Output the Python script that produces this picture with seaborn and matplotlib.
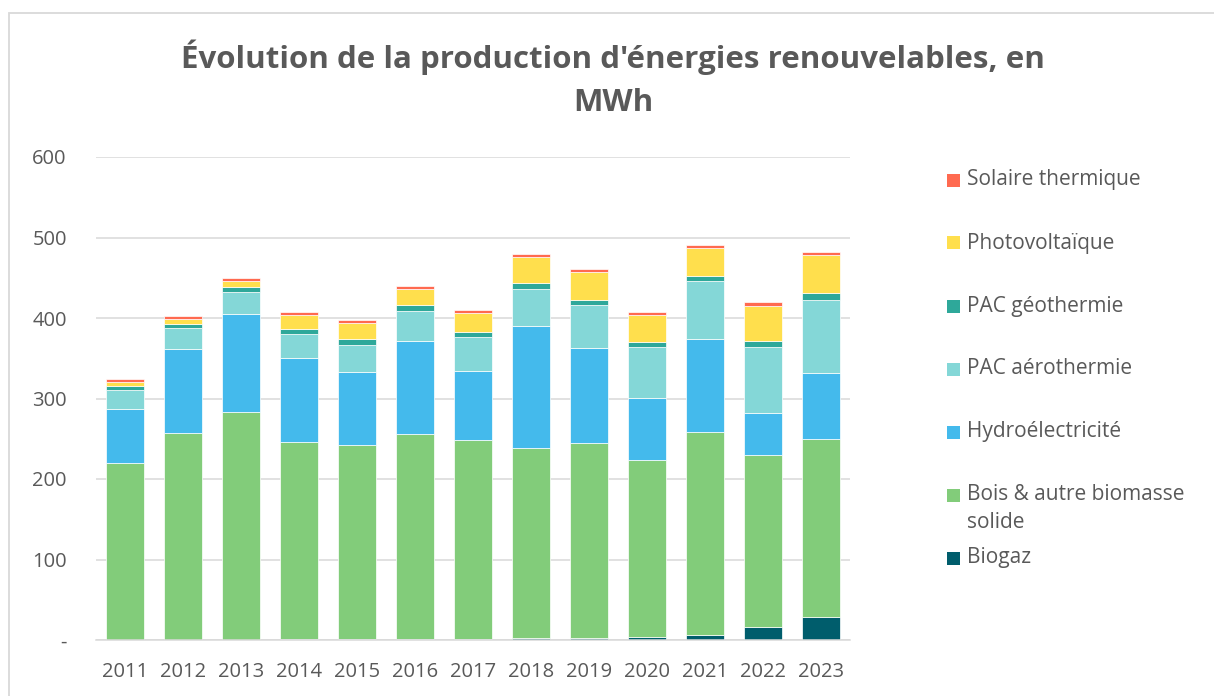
import matplotlib
matplotlib.use("Agg")
import matplotlib.pyplot as plt
from matplotlib.patches import Rectangle
import seaborn as sns
import pandas as pd

years = [2011, 2012, 2013, 2014, 2015, 2016, 2017, 2018, 2019, 2020, 2021, 2022, 2023]
biogaz = [0.2, 0.3, 0.3, 0.8, 1.2, 1.2, 1.8, 3.0, 3.0, 3.7, 6.6, 15.7, 29.0]
bois = [219.3, 256.5, 282.5, 245.6, 240.6, 254.7, 246.2, 235.9, 241.3, 219.5, 251.8, 213.7, 220.7]
hydro = [68.0, 104.5, 122.6, 103.6, 91.5, 116.0, 86.6, 151.6, 118.0, 78.0, 115.9, 53.0, 81.6]
aero = [22.5, 25.7, 27.0, 30.0, 33.5, 37.3, 41.8, 45.9, 53.4, 62.4, 71.7, 81.6, 91.4]
geo = [5.0, 5.0, 5.8, 5.8, 7.0, 6.6, 6.6, 7.1, 6.7, 6.6, 6.6, 7.4, 8.3]
pv = [6.0, 7.0, 8.2, 17.8, 20.3, 20.3, 22.8, 31.9, 34.3, 33.5, 34.8, 43.9, 47.3]
solaire = [3.0, 3.2, 3.4, 3.8, 3.7, 3.8, 3.7, 3.6, 4.2, 3.8, 3.7, 4.2, 3.7]

labels = ["Solaire thermique", "Photovoltaïque", "PAC géothermie", "PAC aérothermie",
          "Hydroélectricité", "Bois & autre biomasse\nsolide", "Biogaz"]
series = [solaire, pv, geo, aero, hydro, bois, biogaz]
colors = ["#FF6A50", "#FFDF4D", "#2EA89A", "#84D7D7", "#44BAEC", "#82CC7A", "#005D6C"]
title = "Évolution de la production d'énergies renouvelables, en\nMWh"
yticks = [0, 100, 200, 300, 400, 500, 600]
ytick_labels = ["-", "100", "200", "300", "400", "500", "600"]

rows = []
for lab, vals in zip(labels, series):
    for y, v in zip(years, vals):
        rows.append({"year": y, "value": v, "source": lab})
df = pd.DataFrame(rows)

sns.set_theme(style="white")
plt.rcParams["font.family"] = ["Open Sans", "DejaVu Sans"]
text_col = "#595959"
grid_col = "#D9D9D9"

W, H = 1214, 696
fig = plt.figure(figsize=(W / 100, H / 100), dpi=100)
ax = fig.add_axes([96 / W, 56 / H, (850 - 96) / W, (640 - 157) / H])

sns.histplot(data=df, x="year", weights="value", hue="source", hue_order=labels,
             palette=dict(zip(labels, colors)), multiple="stack", discrete=True,
             shrink=0.64, alpha=1, edgecolor="white", linewidth=0.5, ax=ax, legend=False)

ax.set_xlim(2010.5, 2023.5)
ax.set_ylim(0, 600)
ax.set_yticks(yticks)
ax.set_yticklabels(ytick_labels)
ax.set_xticks(years)
ax.set_xticklabels([str(y) for y in years])
ax.set_xlabel("")
ax.set_ylabel("")
ax.yaxis.grid(True, color=grid_col, linewidth=1.1)
ax.set_axisbelow(True)
for s in ["top", "right", "left"]:
    ax.spines[s].set_visible(False)
ax.spines["bottom"].set_color(grid_col)
ax.spines["bottom"].set_linewidth(1.1)
ax.tick_params(axis="both", length=0, colors=text_col, labelsize=14.5)
ax.tick_params(axis="y", pad=21)
ax.tick_params(axis="x", pad=16)

fig.text(0.505, 1 - 79 / H, title, ha="center", va="center", fontsize=22.5,
         fontweight="bold", color=text_col, linespacing=1.55)

# legend drawn as squares + text, top entry first
for i, (lab, col) in enumerate(zip(labels, colors)):
    yc = 180 + i * 63
    fig.patches.append(Rectangle((947 / W, 1 - (yc + 6.5) / H), 13 / W, 13 / H,
                                 transform=fig.transFigure, facecolor=col, edgecolor="none"))
    for j, line in enumerate(lab.split("\n")):
        fig.text(967 / W, 1 - (yc + j * 28) / H, line, ha="left", va="center",
                 fontsize=15, color=text_col)

fig.patches.append(Rectangle((9 / W, -0.1), 1.2, 1.1 - 13 / H, transform=fig.transFigure,
                             fill=False, edgecolor=grid_col, linewidth=1.3))

fig.savefig("out.png", dpi=100)
